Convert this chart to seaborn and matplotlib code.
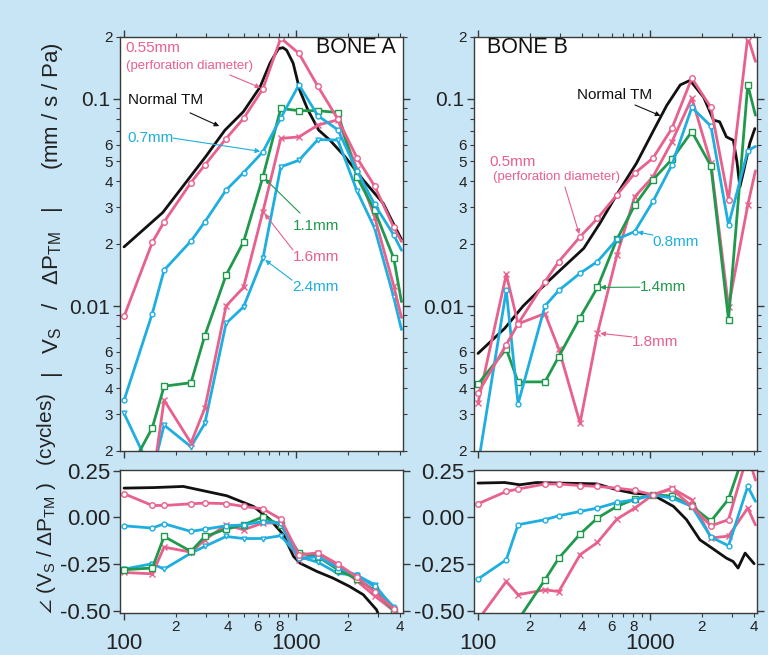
import matplotlib
matplotlib.use("Agg")
import matplotlib.pyplot as plt
import seaborn as sns
from matplotlib.ticker import FixedLocator, FixedFormatter

# ---------------- data ----------------
freq = [100, 146, 171, 245, 295, 392, 495, 642, 815, 1040, 1340, 1750, 2260, 2860, 3700, 4100]

# Bone A magnitude (mm/s/Pa)
mag_a_055 = [0.0089, 0.0203, 0.0255, 0.0395, 0.048, 0.0644, 0.0805, 0.112, 0.197, 0.166, 0.115, 0.080, 0.052, 0.038, 0.024, 0.0205]
mag_a_07 = [0.0035, 0.0092, 0.0149, 0.0206, 0.0255, 0.0363, 0.0441, 0.0556, 0.081, 0.117, 0.083, 0.071, 0.045, 0.031, 0.022, 0.0186]
mag_a_11 = [0.00144, 0.00258, 0.0041, 0.00426, 0.0072, 0.0141, 0.0204, 0.0421, 0.090, 0.0878, 0.0878, 0.086, 0.042, 0.029, 0.017, 0.0105]
mag_a_16 = [0.0014, 0.0014, 0.00351, 0.00218, 0.00321, 0.0100, 0.0123, 0.0286, 0.0645, 0.0656, 0.0748, 0.0793, 0.046, 0.027, 0.0125, 0.0088]
mag_a_24 = [0.00303, 0.00156, 0.00266, 0.00209, 0.00271, 0.00825, 0.0099, 0.0170, 0.047, 0.0506, 0.0637, 0.0633, 0.036, 0.0238, 0.011, 0.0077]

# Bone A phase (cycles)
ph_a_055 = [0.127, 0.064, 0.064, 0.073, 0.077, 0.074, 0.059, 0.046, -0.009, -0.20, -0.19, -0.25, -0.32, -0.40, -0.49, -0.56]
ph_a_07 = [-0.045, -0.057, -0.034, -0.075, -0.063, -0.045, -0.040, -0.022, -0.030, -0.22, -0.21, -0.27, -0.31, -0.37, -0.48, -0.56]
ph_a_11 = [-0.280, -0.271, -0.102, -0.182, -0.102, -0.063, -0.040, 0.003, -0.040, -0.19, -0.21, -0.28, -0.33, -0.39, -0.50, -0.56]
ph_a_16 = [-0.295, -0.302, -0.159, -0.186, -0.120, -0.040, -0.066, -0.030, -0.030, -0.23, -0.19, -0.26, -0.34, -0.42, -0.50, -0.56]
ph_a_24 = [-0.277, -0.248, -0.277, -0.191, -0.155, -0.102, -0.113, -0.113, -0.098, -0.21, -0.24, -0.30, -0.31, -0.36, -0.49, -0.56]

# Bone B magnitude
mag_b_05 = [0.0038, 0.0065, 0.0082, 0.0131, 0.0164, 0.0216, 0.0265, 0.0344, 0.0438, 0.0518, 0.0721, 0.126, 0.091, 0.0325, 0.200, 0.152]
mag_b_08 = [0.0017, 0.0119, 0.00337, 0.0100, 0.0119, 0.0144, 0.0164, 0.0210, 0.0229, 0.032, 0.048, 0.091, 0.074, 0.0246, 0.0563, 0.059]
mag_b_14 = [0.0042, 0.0062, 0.0043, 0.0043, 0.0057, 0.0088, 0.0123, 0.0210, 0.0307, 0.0407, 0.0511, 0.0696, 0.0475, 0.0086, 0.117, 0.0835]
mag_b_18 = [0.0034, 0.0142, 0.0082, 0.0092, 0.0062, 0.00272, 0.0074, 0.0176, 0.0337, 0.0421, 0.0621, 0.101, 0.049, 0.0099, 0.0307, 0.045]

# Bone B phase
ph_b_05 = [0.073, 0.139, 0.152, 0.179, 0.179, 0.171, 0.166, 0.157, 0.145, 0.121, 0.152, 0.059, -0.045, -0.012, 0.34, 0.20]
ph_b_08 = [-0.330, -0.227, -0.039, -0.012, 0.009, 0.032, 0.050, 0.080, 0.095, 0.121, 0.104, 0.059, -0.105, -0.152, 0.166, 0.086]
ph_b_14 = [-0.90, -0.70, -0.55, -0.334, -0.218, -0.089, -0.003, 0.059, 0.098, 0.121, 0.115, 0.060, -0.020, 0.098, 0.40, 0.35]
ph_b_18 = [-0.55, -0.343, -0.414, -0.388, -0.397, -0.200, -0.134, -0.009, 0.050, 0.121, 0.157, 0.095, -0.110, -0.100, 0.050, -0.040]

# Normal TM (continuous curves)
tm_a_f = [100, 168, 242, 300, 386, 494, 617, 706, 790, 840, 882, 962, 1052, 1172, 1355, 1573, 1928, 2460, 3215, 3670, 4100]
tm_a_mag = [0.0193, 0.0283, 0.042, 0.053, 0.0707, 0.0868, 0.114, 0.149, 0.175, 0.177, 0.172, 0.149, 0.110, 0.0886, 0.0707, 0.0633, 0.0526, 0.0406, 0.0313, 0.0251, 0.021]
tm_a_pf = [100, 150, 221, 396, 565, 707, 845, 967, 1055, 1320, 1640, 2050, 2460, 2940, 3100]
tm_a_ph = [0.157, 0.160, 0.166, 0.116, 0.059, -0.012, -0.093, -0.209, -0.245, -0.289, -0.325, -0.370, -0.414, -0.495, -0.55]

tm_b_f = [100, 143, 183, 262, 412, 510, 640, 835, 1040, 1250, 1500, 1710, 2050, 2340, 2540, 2780, 3050, 3200, 3330, 3480, 3800, 4070]
tm_b_mag = [0.0059, 0.0078, 0.010, 0.0134, 0.019, 0.025, 0.0345, 0.049, 0.0696, 0.093, 0.117, 0.123, 0.102, 0.079, 0.0776, 0.0656, 0.0632, 0.050, 0.0376, 0.0438, 0.061, 0.072]
tm_b_pf = [100, 143, 175, 219, 300, 490, 641, 800, 1040, 1370, 1630, 1950, 2290, 2780, 3040, 3250, 3570, 4030]
tm_b_ph = [0.184, 0.187, 0.175, 0.187, 0.184, 0.180, 0.148, 0.130, 0.121, 0.059, -0.012, -0.120, -0.164, -0.218, -0.236, -0.271, -0.191, -0.248]

mag_major = [0.01, 0.1]
mag_major_lbl = ["0.01", "0.1"]
mag_minor = [0.002, 0.003, 0.004, 0.005, 0.006, 0.007, 0.008, 0.009,
             0.02, 0.03, 0.04, 0.05, 0.06, 0.07, 0.08, 0.09, 0.2]
mag_minor_lbl = ["2", "3", "4", "5", "6", "", "", "",
                 "2", "3", "4", "5", "6", "", "", "", "2"]
ph_ticks = [-0.5, -0.25, 0.0, 0.25]
ph_lbl = ["-0.50", "-0.25", "0.00", "0.25"]
x_major = [100, 1000]
x_major_lbl = ["100", "1000"]
x_minor = [200, 300, 400, 500, 600, 700, 800, 900, 2000, 3000, 4000]
x_minor_lbl = ["2", "", "4", "", "6", "", "8", "", "2", "", "4"]

# ---------------- style ----------------
BG = "#c8e5f5"
PINK = "#e8608c"
CYAN = "#1eaedf"
GREEN = "#1f9a4c"
BLACK = "#111111"
SPINE = "#3a3a3a"

sns.set_theme(style="ticks")
plt.rcParams["font.family"] = ["Liberation Sans", "DejaVu Sans"]
plt.rcParams["mathtext.fontset"] = "custom"
plt.rcParams["mathtext.rm"] = "Liberation Sans"
plt.rcParams["mathtext.it"] = "Liberation Sans:italic"
plt.rcParams["mathtext.bf"] = "Liberation Sans:bold"
plt.rcParams["mathtext.fallback"] = "stixsans"

fig = plt.figure(figsize=(7.68, 6.55), dpi=100, facecolor=BG)
axA = fig.add_axes([0.1565, 0.3119, 0.3681, 0.6321])
axB = fig.add_axes([0.6174, 0.3119, 0.3681, 0.6321])
pA = fig.add_axes([0.1565, 0.0647, 0.3681, 0.2180])
pB = fig.add_axes([0.6174, 0.0647, 0.3681, 0.2180])

for ax in (axA, axB, pA, pB):
    ax.set_facecolor("white")
    ax.set_xscale("log")
    ax.set_xlim(95, 4180)
    for s in ax.spines.values():
        s.set_color(SPINE)
        s.set_linewidth(1.0)
        s.set_visible(True)
for ax in (axA, axB):
    ax.set_yscale("log")
    ax.set_ylim(0.002, 0.2)
for ax in (pA, pB):
    ax.set_ylim(-0.51, 0.255)

n_mk = list(range(len(freq) - 1))


def series(ax, y, color, marker, ms, lw=2.0, mew=1.0):
    sns.lineplot(x=freq, y=y, ax=ax, color=color, linewidth=lw, marker=marker,
                 markersize=ms, markerfacecolor="white", markeredgecolor=color,
                 markeredgewidth=mew, markevery=n_mk, sort=False,
                 estimator=None, errorbar=None, legend=False, clip_on=True)


def tm(ax, x, y):
    sns.lineplot(x=x, y=y, ax=ax, color=BLACK, linewidth=2.0, sort=False,
                 estimator=None, errorbar=None, legend=False)


# Bone A magnitude
tm(axA, tm_a_f, tm_a_mag)
series(axA, mag_a_24, CYAN, "v", 3.5)
series(axA, mag_a_16, PINK, "x", 4)
series(axA, mag_a_11, GREEN, "s", 4.5)
series(axA, mag_a_07, CYAN, "o", 3.5)
series(axA, mag_a_055, PINK, "o", 4)
# Bone B magnitude
tm(axB, tm_b_f, tm_b_mag)
series(axB, mag_b_18, PINK, "x", 4)
series(axB, mag_b_14, GREEN, "s", 4.5)
series(axB, mag_b_08, CYAN, "o", 3.5)
series(axB, mag_b_05, PINK, "o", 4)
# Bone A phase
tm(pA, tm_a_pf, tm_a_ph)
series(pA, ph_a_24, CYAN, "v", 3.5)
series(pA, ph_a_16, PINK, "x", 4)
series(pA, ph_a_11, GREEN, "s", 4.5)
series(pA, ph_a_07, CYAN, "o", 3.5)
series(pA, ph_a_055, PINK, "o", 4)
# Bone B phase
tm(pB, tm_b_pf, tm_b_ph)
series(pB, ph_b_18, PINK, "x", 4)
series(pB, ph_b_14, GREEN, "s", 4.5)
series(pB, ph_b_08, CYAN, "o", 3.5)
series(pB, ph_b_05, PINK, "o", 4)

# ---------------- ticks ----------------
for ax in (axA, axB, pA, pB):
    ax.xaxis.set_major_locator(FixedLocator(x_major))
    ax.xaxis.set_minor_locator(FixedLocator(x_minor))
    ax.set_xlabel("")
    ax.set_ylabel("")

for ax in (axA, axB):
    ax.yaxis.set_major_locator(FixedLocator(mag_major))
    ax.yaxis.set_major_formatter(FixedFormatter(mag_major_lbl))
    ax.yaxis.set_minor_locator(FixedLocator(mag_minor))
    ax.yaxis.set_minor_formatter(FixedFormatter(mag_minor_lbl))
    ax.tick_params(axis="x", which="both", bottom=True, top=True,
                   labelbottom=False, direction="out", color=SPINE)
    ax.tick_params(axis="x", which="major", length=5, width=1)
    ax.tick_params(axis="x", which="minor", length=3, width=0.8)
    ax.tick_params(axis="y", which="both", left=True, right=True,
                   direction="out", color=SPINE, labelcolor="#222222")
    ax.tick_params(axis="y", which="major", length=5, width=1, labelsize=15, pad=2)
    ax.tick_params(axis="y", which="minor", length=3, width=0.8, labelsize=11, pad=2)

for ax in (pA, pB):
    ax.xaxis.set_major_formatter(FixedFormatter(x_major_lbl))
    ax.xaxis.set_minor_formatter(FixedFormatter(x_minor_lbl))
    ax.yaxis.set_major_locator(FixedLocator(ph_ticks))
    ax.yaxis.set_major_formatter(FixedFormatter(ph_lbl))
    ax.tick_params(axis="x", which="both", bottom=True, top=False,
                   direction="out", color=SPINE, labelcolor="#222222")
    ax.tick_params(axis="x", which="major", length=5, width=1, labelsize=16, pad=10)
    ax.tick_params(axis="x", which="minor", length=3, width=0.8, labelsize=11, pad=2)
    ax.tick_params(axis="y", which="both", left=True, right=True,
                   direction="out", color=SPINE, labelcolor="#222222",
                   length=5, width=1, labelsize=16, pad=2)

# ---------------- labels ----------------
fig.text(53 / 768, 1 - 210 / 655,
         "|   V$_{\\rm S}$   /   ΔP$_{\\rm TM}$   |      (mm / s / Pa)",
         rotation=90, ha="center", va="center", fontsize=16, color="#222222")
fig.text(47 / 768, 1 - 503 / 655,
         "$\\angle$ (V$_{\\rm S}$ / ΔP$_{\\rm TM}$ )   (cycles)",
         rotation=90, ha="center", va="center", fontsize=15, color="#222222")

axA.text(0.975, 0.973, "BONE A", transform=axA.transAxes, ha="right", va="center",
         fontsize=15.5, color="#111111")
axB.text(0.045, 0.973, "BONE B", transform=axB.transAxes, ha="left", va="center",
         fontsize=15.5, color="#111111")


def note(ax, text, tx, ty, color, size=11, ha="left"):
    ax.text(tx, ty, text, transform=ax.transAxes, ha=ha, va="center",
            fontsize=size, color=color)


def arrow(ax, tip, start, color):
    ax.annotate("", xy=tip, xycoords="data", xytext=start, textcoords="axes fraction",
                arrowprops=dict(arrowstyle="-|>", color=color, lw=0.8,
                                mutation_scale=7, shrinkA=0, shrinkB=2))


# Bone A notes
note(axA, "0.55mm", 0.02, 0.973, PINK)
note(axA, "(perforation diameter)", 0.02, 0.929, PINK, size=9.5)
arrow(axA, (freq[7], mag_a_055[7]), (0.388, 0.9075), PINK)
note(axA, "Normal TM", 0.027, 0.847, BLACK)
arrow(axA, (370, 0.073), (0.247, 0.816), BLACK)
note(axA, "0.7mm", 0.027, 0.755, CYAN)
arrow(axA, (freq[7], mag_a_07[7]), (0.187, 0.755), CYAN)
note(axA, "1.1mm", 0.693, 0.543, GREEN, ha="center")
arrow(axA, (freq[7], mag_a_11[7]), (0.636, 0.574), GREEN)
note(axA, "1.6mm", 0.693, 0.468, PINK, ha="center")
arrow(axA, (freq[7], mag_a_16[7]), (0.611, 0.485), PINK)
note(axA, "2.4mm", 0.690, 0.395, CYAN, ha="center")
arrow(axA, (freq[7], mag_a_24[7]), (0.608, 0.412), CYAN)

# Bone B notes
note(axB, "Normal TM", 0.364, 0.859, BLACK)
arrow(axB, (1190, 0.082), (0.569, 0.835), BLACK)
note(axB, "0.5mm", 0.055, 0.697, PINK)
note(axB, "(perforation diameter)", 0.065, 0.661, PINK, size=9.5)
arrow(axB, (freq[5], mag_b_05[5]), (0.321, 0.637), PINK)
note(axB, "0.8mm", 0.632, 0.504, CYAN)
arrow(axB, (freq[8], mag_b_08[8]), (0.632, 0.521), CYAN)
note(axB, "1.4mm", 0.586, 0.395, GREEN)
arrow(axB, (freq[6], mag_b_14[6]), (0.586, 0.395), GREEN)
note(axB, "1.8mm", 0.558, 0.263, PINK)
arrow(axB, (freq[6], mag_b_18[6]), (0.558, 0.275), PINK)

fig.savefig("out.png", dpi=100, facecolor=BG)
